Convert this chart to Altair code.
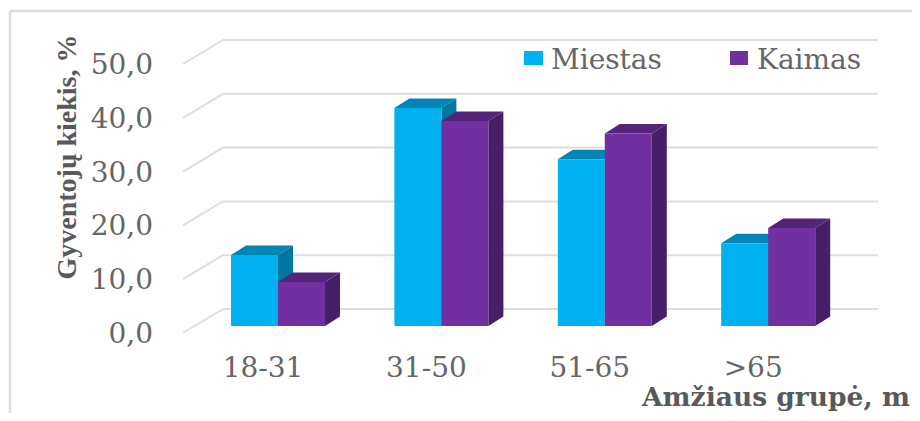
import altair as alt
import pandas as pd

categories = ["18-31", "31-50", "51-65", ">65"]
miestas = [13.2, 40.5, 31.0, 15.4]
kaimas = [8.2, 38.1, 35.8, 18.2]
ticks = [0, 10, 20, 30, 40, 50]
tick_labels = ["0,0", "10,0", "20,0", "30,0", "40,0", "50,0"]

W, H = 904, 405
PX_X = 163.4      # pixels per category step
PX_Y = 5.38       # pixels per value unit
X0 = 223          # plot px of the first group's left edge
Y0 = 318          # plot px of the value zero
BAR = 47 / PX_X
DX = 15 / PX_X
DY = 9.5 / PX_Y
BACK = 17 / PX_Y
FRONT = -7 / PX_Y
WALL_L = -8 / PX_X
WALL_F = -48 / PX_X
WALL_R = (870 - X0) / PX_X

x_scale = alt.Scale(domain=[-X0 / PX_X, (W - X0) / PX_X], range=[0, W], nice=False, zero=False)
y_scale = alt.Scale(domain=[-(H - Y0) / PX_Y, Y0 / PX_Y], range=[H, 0], nice=False, zero=False)
X = alt.X("x:Q", scale=x_scale, axis=None)
Y = alt.Y("y:Q", scale=y_scale, axis=None, stack=None)


def rule_layer(rows, color, width):
    return alt.Chart(pd.DataFrame(rows)).mark_rule(color=color, strokeWidth=width).encode(
        x=X, x2="x2:Q", y=Y, y2="y2:Q")


grid = []
for t in ticks:
    grid.append(dict(x=WALL_F, x2=WALL_L, y=t + FRONT, y2=t + BACK))
    grid.append(dict(x=WALL_L, x2=WALL_R, y=t + BACK, y2=t + BACK))


def bars(values, start, front, top, side):
    rects, sides, tops = [], [], []
    for g, v in enumerate(values):
        a, b = g + start, g + start + BAR
        rects.append(dict(x=a, x2=b, y=0, y2=v))
        sides += [dict(p=g, x=b, y=0, y2=v), dict(p=g, x=b + DX, y=DY, y2=v + DY)]
        tops += [dict(p=g, x=a, y=v, y2=v), dict(p=g, x=a + DX, y=v, y2=v + DY),
                 dict(p=g, x=b, y=v, y2=v + DY), dict(p=g, x=b + DX, y=v + DY, y2=v + DY)]
    return [
        alt.Chart(pd.DataFrame(sides)).mark_area(color=side, interpolate="linear").encode(
            x=X, y=Y, y2="y2:Q", detail="p:N"),
        alt.Chart(pd.DataFrame(tops)).mark_area(color=top, interpolate="linear").encode(
            x=X, y=Y, y2="y2:Q", detail="p:N"),
        alt.Chart(pd.DataFrame(rects)).mark_rect(color=front).encode(x=X, x2="x2:Q", y=Y, y2="y2:Q"),
    ]


def px(x):  # page px to category units
    return (x - 8 - X0) / PX_X


def py(y):  # page px to value units
    return (Y0 + 8 - y) / PX_Y


def text_layer(rows, **kw):
    return alt.Chart(pd.DataFrame(rows)).mark_text(**kw).encode(x=X, y=Y, text="t:N")


base = dict(font="DejaVu Serif", fontSize=28, color="#666666", baseline="middle")
SHIFT = -2 / PX_Y

layers = [
    # chart frame
    rule_layer([dict(x=px(10), x2=px(10), y=py(11), y2=py(421)),
                dict(x=px(10), x2=px(920), y=py(11), y2=py(11))], "#dcdcdc", 2.5),
]
layers.append(rule_layer(grid, "#dedede", 2))
layers += bars(miestas, 0.0, "#00B0F0", "#0085B5", "#00779F")
layers += bars(kaimas, BAR, "#7030A0", "#54247A", "#461F66")
layers.append(text_layer([dict(x=px(153), y=t + FRONT + SHIFT, t=l) for t, l in zip(ticks, tick_labels)],
                         align="right", **base))
layers.append(text_layer([dict(x=g + BAR - 15 / PX_X, y=py(369), t=c) for g, c in enumerate(categories)],
                         align="center", **base))
layers.append(alt.Chart(pd.DataFrame([dict(x=px(524), x2=px(543), y=py(51), y2=py(65))])).mark_rect(color="#00B0F0").encode(
    x=X, x2="x2:Q", y=Y, y2="y2:Q"))
layers.append(alt.Chart(pd.DataFrame([dict(x=px(730), x2=px(748), y=py(51), y2=py(65))])).mark_rect(color="#7030A0").encode(
    x=X, x2="x2:Q", y=Y, y2="y2:Q"))
layers.append(text_layer([dict(x=px(551), y=py(61), t="Miestas"), dict(x=px(757), y=py(61), t="Kaimas")],
                         align="left", **base))
layers.append(text_layer([dict(x=px(68), y=py(157), t="Gyventojų kiekis, %")],
                         font="Liberation Serif", fontSize=28, fontWeight="bold", color="#595959",
                         angle=270, align="center", baseline="middle"))
layers.append(text_layer([dict(x=px(642), y=py(398), t="Amžiaus grupė, m")],
                         font="DejaVu Serif", fontSize=26.5, fontWeight="bold", color="#595959",
                         align="left", baseline="middle"))

chart = alt.layer(*layers).properties(
    width=W, height=H, padding=0,
    autosize=alt.AutoSizeParams(type="none"),
).configure_view(stroke=None)

chart.save("out.html", embed_options={"renderer": "svg", "actions": False})
